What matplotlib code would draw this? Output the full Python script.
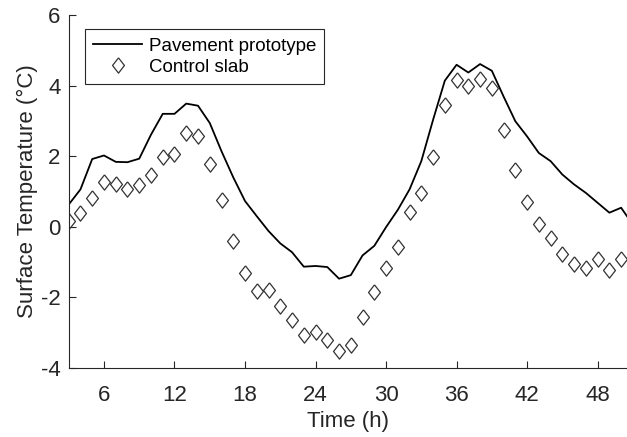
#!/usr/bin/env python

import numpy as np
import matplotlib.pyplot as plt


plt.rcParams['font.family'] = ['Liberation Sans', 'DejaVu Sans']
plt.rcParams['axes.unicode_minus'] = False
ink = '#262626'
fs = 16

# hourly readings
hours_pave = np.arange(3, 52)
pavement = [0.63, 1.06, 1.92, 2.02, 1.84, 1.83, 1.93, 2.61, 3.20, 3.20,
            3.49, 3.43, 2.94, 2.14, 1.40, 0.73, 0.30, -0.12, -0.47, -0.72,
            -1.13, -1.11, -1.14, -1.47, -1.37, -0.81, -0.54, -0.01, 0.48, 1.06,
            1.86, 3.03, 4.14, 4.59, 4.37, 4.61, 4.42, 3.69, 2.99, 2.56,
            2.09, 1.86, 1.48, 1.20, 0.96, 0.68, 0.40, 0.54, 0.06]

hours_ctrl = np.arange(3, 51)
control = [0.16, 0.38, 0.82, 1.26, 1.22, 1.08, 1.17, 1.46, 1.97, 2.07,
           2.67, 2.56, 1.79, 0.77, -0.40, -1.30, -1.83, -1.79, -2.24, -2.63,
           -3.07, -2.97, -3.20, -3.53, -3.34, -2.55, -1.86, -1.16, -0.57, 0.43,
           0.97, 1.98, 3.46, 4.16, 3.99, 4.19, 3.93, 2.75, 1.62, 0.71,
           0.07, -0.33, -0.78, -1.06, -1.18, -0.90, -1.22, -0.92]

xticks = [6, 12, 18, 24, 30, 36, 42, 48]
yticks = [-4, -2, 0, 2, 4, 6]

# slightly tall diamond
diamond = [(0, 1), (0.78, 0), (0, -1), (-0.78, 0), (0, 1)]


def main():
    fig = plt.figure(figsize=(6.27, 4.37), dpi=100)
    ax = fig.add_axes([0.1096, 0.1579, 0.8904, 0.8078])

    ax.plot(hours_pave, pavement, color='black', lw=1.3,
            label='Pavement prototype')
    ax.plot(hours_ctrl, control, ls='none', marker=diamond, ms=11,
            mfc='white', mec='#333333', mew=0.9, label='Control slab')

    ax.set_xlim(3, 50.5)
    ax.set_ylim(-4, 6)
    ax.set_xticks(xticks)
    ax.set_yticks(yticks)
    ax.set_xlabel('Time (h)', fontsize=16, color=ink, labelpad=4)
    ax.set_ylabel('Surface Temperature (°C)', fontsize=16, color=ink,
                  labelpad=2)

    for side in ('top', 'right'):
        ax.spines[side].set_visible(False)
    for side in ('left', 'bottom'):
        ax.spines[side].set_color(ink)
        ax.spines[side].set_linewidth(0.8)
    ax.tick_params(direction='in', length=5, width=0.8, colors=ink,
                   labelsize=fs)
    ax.tick_params(axis='x', pad=12)
    ax.tick_params(axis='y', pad=6)

    leg = ax.legend(loc='upper left', bbox_to_anchor=(0.029, 0.960),
                    borderaxespad=0, fontsize=13.5, fancybox=False,
                    framealpha=1, edgecolor=ink, handlelength=2.6,
                    handletextpad=0.35, labelspacing=0.2, borderpad=0.45)
    leg.get_frame().set_linewidth(0.8)
    for t in leg.get_texts():
        t.set_color('black')

    plt.savefig('out.png', dpi=100)
    plt.close()


if __name__ == "__main__":
    main()
